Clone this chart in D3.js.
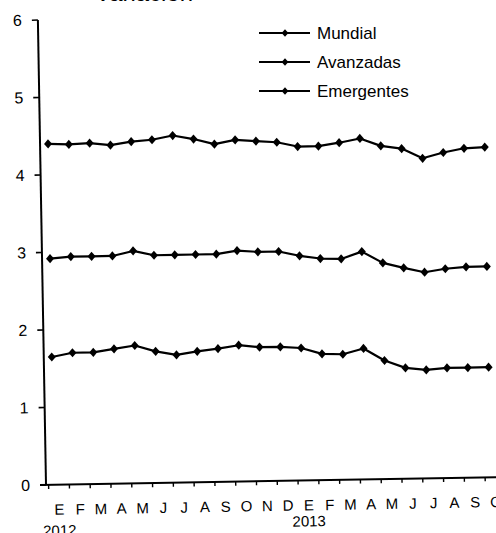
<!DOCTYPE html>
<html>
<head>
<meta charset="utf-8">
<script src="https://cdn.jsdelivr.net/npm/d3@7/dist/d3.min.js"></script>
<style>
  html, body { margin: 0; padding: 0; background: #fff; }
  svg { display: block; font-family: "Liberation Sans", Arial, sans-serif; }
</style>
</head>
<body>
<svg id="chart" width="496" height="533"></svg>
<script>
// ---- data ----
const months = ["E","F","M","A","M","J","J","A","S","O","N","D","E","F","M","A","M","J","J","A","S","O"];
const years = [{label: "2012", index: 0, row: 2}, {label: "2013", index: 12, row: 1}];
const yTicks = [0, 1, 2, 3, 4, 5, 6];
const seriesNames = ["Mundial", "Avanzadas", "Emergentes"];
const mundial    = [2.92,2.94,2.94,2.94,3.00,2.94,2.94,2.94,2.94,2.98,2.96,2.96,2.90,2.86,2.85,2.94,2.79,2.72,2.66,2.70,2.72,2.72];
const avanzadas  = [1.65,1.70,1.70,1.74,1.78,1.70,1.65,1.69,1.72,1.76,1.73,1.73,1.71,1.63,1.62,1.69,1.53,1.43,1.40,1.42,1.42,1.42];
const emergentes = [4.40,4.39,4.40,4.37,4.41,4.43,4.48,4.43,4.36,4.41,4.39,4.37,4.31,4.31,4.35,4.40,4.30,4.26,4.13,4.20,4.25,4.26];
const seriesValues = [mundial, avanzadas, emergentes];

// ---- layout ----
const svg = d3.select("#chart");
const ox = 46, oy = 485;        // axis origin
const diamond = "M0,-4.6L4,0L0,4.6L-4,0Z";
const diamondSmall = "M0,-3.8L3.4,0L0,3.8L-3.4,0Z";

// partially visible title at the very top (cut off in the reference)
svg.append("text")
  .attr("x", 95).attr("y", 0.8)
  .attr("font-size", 20)
  .attr("textLength", 98).attr("lengthAdjust", "spacingAndGlyphs")
  .attr("fill", "#000")
  .text("Variación");

const g = svg.append("g").attr("transform", `rotate(-1, ${ox}, ${oy})`);

const x = d3.scalePoint().domain(d3.range(months.length)).range([ox + 8, ox + 8 + 21 * 20.79]);
const y = d3.scaleLinear().domain([0, 6]).range([oy, oy - 465]);
const step = x.step();

// y axis
g.append("line").attr("x1", ox).attr("x2", ox).attr("y1", y(0)).attr("y2", y(6))
  .attr("stroke", "#000").attr("stroke-width", 2);
g.selectAll(".ytick").data(yTicks).join("line")
  .attr("x1", ox - 6).attr("x2", ox).attr("y1", d => y(d)).attr("y2", d => y(d))
  .attr("stroke", "#000").attr("stroke-width", 1.6);
g.selectAll(".ylab").data(yTicks).join("text")
  .attr("x", ox - 16).attr("y", d => y(d) + 5.5)
  .attr("text-anchor", "end").attr("font-size", 16).attr("fill", "#000")
  .text(d => d);

// x axis
g.append("line").attr("x1", ox - 6).attr("x2", 520).attr("y1", oy).attr("y2", oy)
  .attr("stroke", "#000").attr("stroke-width", 2);
const tickPos = d3.range(months.length).map(i => x(i) + 5 - step / 2);
g.selectAll(".xtick").data(tickPos).join("line")
  .attr("x1", d => d).attr("x2", d => d).attr("y1", oy).attr("y2", oy + 4)
  .attr("stroke", "#000").attr("stroke-width", 1.4);
g.selectAll(".xlab").data(months).join("text")
  .attr("x", (d, i) => x(i) + 5).attr("y", oy + 30)
  .attr("text-anchor", "middle").attr("font-size", 15).attr("fill", "#000")
  .text(d => d);
g.selectAll(".year").data(years).join("text")
  .attr("x", d => x(d.index) + 5).attr("y", d => d.row === 1 ? oy + 46 : oy + 51)
  .attr("text-anchor", "middle").attr("font-size", 15).attr("fill", "#000")
  .text(d => d.label);

// series
const line = d3.line().x((d, i) => x(i)).y(d => y(d));
seriesValues.forEach(vals => {
  g.append("path").datum(vals).attr("d", line)
    .attr("fill", "none").attr("stroke", "#000").attr("stroke-width", 2.2)
    .attr("stroke-linejoin", "round");
  g.selectAll(null).data(vals).join("path")
    .attr("d", diamond)
    .attr("transform", (d, i) => `translate(${x(i)},${y(d)})`)
    .attr("fill", "#000");
});

// legend
const leg = svg.append("g");
seriesNames.forEach((name, k) => {
  const ry = 33 + k * 29;
  leg.append("line").attr("x1", 259).attr("x2", 310).attr("y1", ry).attr("y2", ry)
    .attr("stroke", "#000").attr("stroke-width", 1.8);
  leg.append("path").attr("d", diamondSmall).attr("transform", `translate(285,${ry})`).attr("fill", "#000");
  leg.append("text").attr("x", 317).attr("y", ry + 5.5)
    .attr("font-size", 17).attr("fill", "#000").text(name);
});
</script>
</body>
</html>
